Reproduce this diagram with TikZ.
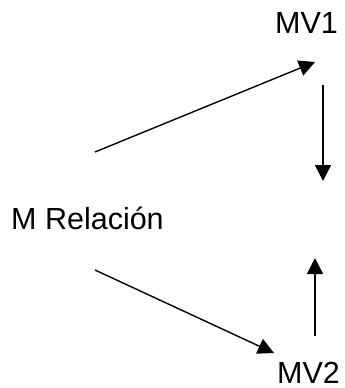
\documentclass[tikz,border=0pt]{standalone}
\usepackage{fontspec}
\setmainfont{Liberation Sans}
\usetikzlibrary{arrows.meta}
\begin{document}
\begin{tikzpicture}[x=1pt,y=-1pt,
  label/.style={inner sep=0pt,anchor=base west,font=\fontsize{30.5}{36}\selectfont},
  link/.style={line width=1.4pt,-{Triangle[length=16pt,width=16pt]}}]
\useasboundingbox (0,0) rectangle (345,388);
% labels, placed by their baselines
\node[label] (mv1) at (275,33) {MV1};
\node[label] (mrel) at (11,229) {M Relación};
\node[label] (mv2) at (277,383) {MV2};
% connector ends
\coordinate (s1) at (95,152);
\coordinate (e1) at (315,62);
\coordinate (s2) at (323,85);
\coordinate (e2) at (323,181);
\coordinate (s3) at (95,270);
\coordinate (e3) at (274,353);
\coordinate (s4) at (315,336);
\coordinate (e4) at (315,258);
% arrows
\draw[link] (s1) -- (e1);
\draw[link] (s2) -- (e2);
\draw[link] (s3) -- (e3);
\draw[link] (s4) -- (e4);
\end{tikzpicture}
\end{document}
